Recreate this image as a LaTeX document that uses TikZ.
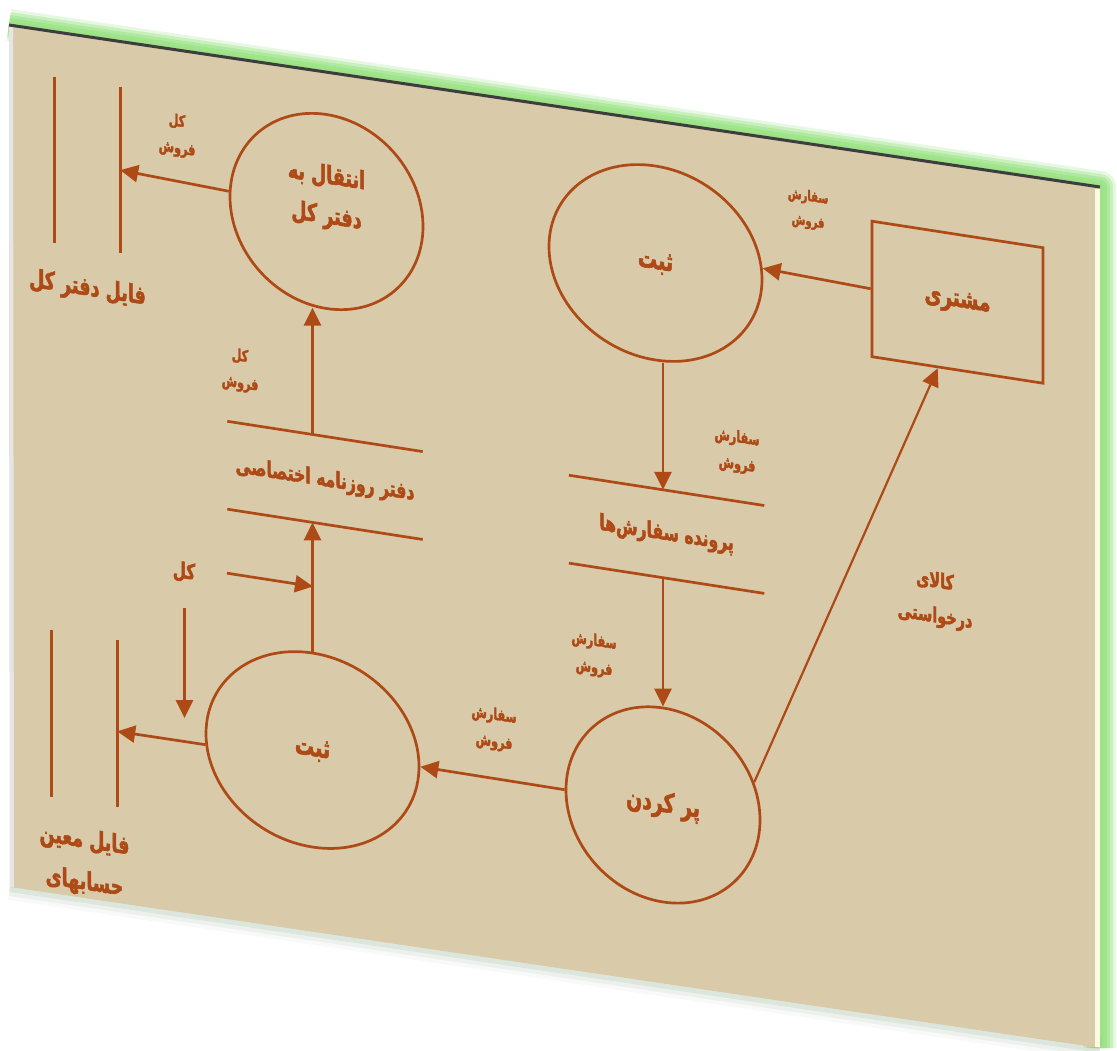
\documentclass[tikz,border=0pt]{standalone}
\usepackage{fontspec}
\newfontfamily\arabicfont[Script=Arabic, FakeStretch=0.7, FakeBold=2]{DejaVu Sans Bold}
\TeXXeTstate=1
\usetikzlibrary{arrows.meta,positioning,shapes.geometric,calc}
\definecolor{rust}{HTML}{AD4A16}
\definecolor{paper}{HTML}{D9CAAA}
\definecolor{glow}{HTML}{9BE386}
\definecolor{edgeline}{HTML}{3D3D3D}
\definecolor{cream}{HTML}{FDFAE0}
\newcommand{\fa}[1]{\beginR #1\endR}
\newcommand{\fs}[2]{\arabicfont\fontsize{#1}{#2}\selectfont}

\begin{document}
\begin{tikzpicture}[x=1pt, y=-1pt,
  wire/.style={draw=rust, line width=2.7pt},
  arr/.style={wire, -{Triangle[length=18pt,width=17pt]}},
  proc/.style={wire, ellipse, inner sep=0pt, minimum height=194pt, text=rust, align=center, font=\fs{27.4}{40}},
  ent/.style={wire, rectangle, minimum width=171pt, minimum height=135.5pt, text=rust, font=\fs{26.3}{40}},
  store/.style={minimum width=195pt, minimum height=87.5pt, inner sep=0pt, text=rust, font=\fs{22.3}{30}},
  file/.style={minimum width=65pt, minimum height=166pt, inner sep=0pt},
  ftxt/.style={text=rust, align=center, inner sep=0pt, font=\fs{25}{42}},
  lbl/.style={text=rust, align=center, inner sep=0pt, font=\fs{16}{27}}]
  \useasboundingbox (0,0) rectangle (1117,1051);
  \coordinate (pTL) at (9,25); \coordinate (pTR) at (1100,187);
  \coordinate (pBR) at (1100,1048); \coordinate (pBL) at (10,887);
  \foreach \w/\o in {32/0.25,26/0.4,20/0.55,14/0.75,8/1}
    \draw[glow, line width=\w pt, opacity=\o, line join=round] (pTL) -- (pTR) -- (pBR);
  \foreach \w/\o in {26/0.05,18/0.08,10/0.12}
    \draw[green!15!gray, line width=\w pt, opacity=\o] (pBL) -- (pBR);
  \fill[paper] (pTL) -- (pTR) -- (pBR) -- (pBL) -- cycle;
  \draw[gray!20, line width=4pt] ($(pTL)+(2,2)$) -- ($(pBL)+(2,0)$);
  \draw[cream, line width=5pt] ($(pTR)+(-2.5,2)$) -- ($(pBR)+(-2.5,-1)$);
  \draw[edgeline, line width=3pt] (pTL) -- (pTR);

  \begin{scope}[yslant=-0.155, transform shape]
    \node[proc, minimum width=193pt, font=\fs{25}{40}, text height=62pt, text depth=38pt] (circA) at (326.5,160.9) {\fa{انتقال به}\\\fa{دفتر کل}};
    \node[proc, minimum width=213pt] (circD) at (655.5,161.4) {\fa{ثبت}};
    \node[proc, minimum width=213pt] (circB) at (312.5,701.6) {\fa{ثبت}};
    \node[proc, minimum width=194pt, font=\fs{26.9}{40}] (circC) at (663,702.2) {\fa{پر کردن}};
    \node[ent] (rectE) at (957.5,153.8) {\fa{مشتری}};
    \node[store] (store1) at (325,430) {\fa{دفتر روزنامه اختصاصی}};
    \node[store] (store2) at (666.6,431) {\fa{پرونده سفارش‌ها}};
    \node[file] (f1) at (87.5,151.5) {};
    \node[file, minimum height=167pt] (f2) at (84.5,705.5) {};
    \node[ftxt, below=28pt of f1] (f1txt) {\fa{فایل دفتر کل}};
    \node[ftxt, below=26pt of f2] (f2txt) {\fa{فایل معین}\\\fa{حسابهای}};
    \draw[wire] (store1.north west) -- (store1.north east) (store1.south west) -- (store1.south east);
    \draw[wire] (store2.north west) -- (store2.north east) (store2.south west) -- (store2.south east);
    \draw[wire] (f1.north west) -- (f1.south west) (f1.north east) -- (f1.south east);
    \draw[wire] (f2.north west) -- (f2.south west) (f2.north east) -- (f2.south east);

    \coordinate (kIn) at (227,538); \coordinate (kEnd) at (313,538);
    \coordinate (dTop) at (184.5,579.4); \coordinate (dBot) at (184.5,689.4);

    \draw[arr] (circA.177) -- (f1.east);
    \draw[arr] (circB.north |- store1.north) -- (circB.north |- circA.south);
    \draw[arr] (circB.north) -- (circB.north |- store1.south);
    \draw[arr] (kIn) -- (kEnd);
    \draw[arr] (dTop) -- (dBot);
    \draw[arr] (circB.186) -- ($(f2.north east)!0.546!(f2.south east)$);
    \draw[arr] (circC.west) -- (circB.east);
    \draw[arr] (rectE.west) -- (circD.6);
    \draw[arr] (circD.south -| circC.north) -- (circC.north |- store2.north);
    \draw[arr] (circC.north |- store2.south) -- (circC.north);
    \draw[arr, line width=2.2pt] (circC.22) -- ($(rectE.south west)!0.386!(rectE.south east)$);

    \node[lbl] (lab1) at (177,108) {\fa{کل}\\\fa{فروش}};
    \node[lbl] (lab2) at (240,333) {\fa{کل}\\\fa{فروش}};
    \node[lbl, font=\fs{21.7}{27}] (lab3) at (184,543.5) {\fa{کل}};
    \node[lbl] (lab4) at (494,652.4) {\fa{سفارش}\\\fa{فروش}};
    \node[lbl] (lab5) at (737,337.3) {\fa{سفارش}\\\fa{فروش}};
    \node[lbl] (lab6) at (594,562.9) {\fa{سفارش}\\\fa{فروش}};
    \node[lbl, font=\fs{14.3}{25}] (lab7) at (808,84.3) {\fa{سفارش}\\\fa{فروش}};
    \node[lbl, font=\fs{20.6}{35}] (lab8) at (935,454.6) {\fa{کالای}\\\fa{درخواستی}};
  \end{scope}
\end{tikzpicture}
\end{document}
